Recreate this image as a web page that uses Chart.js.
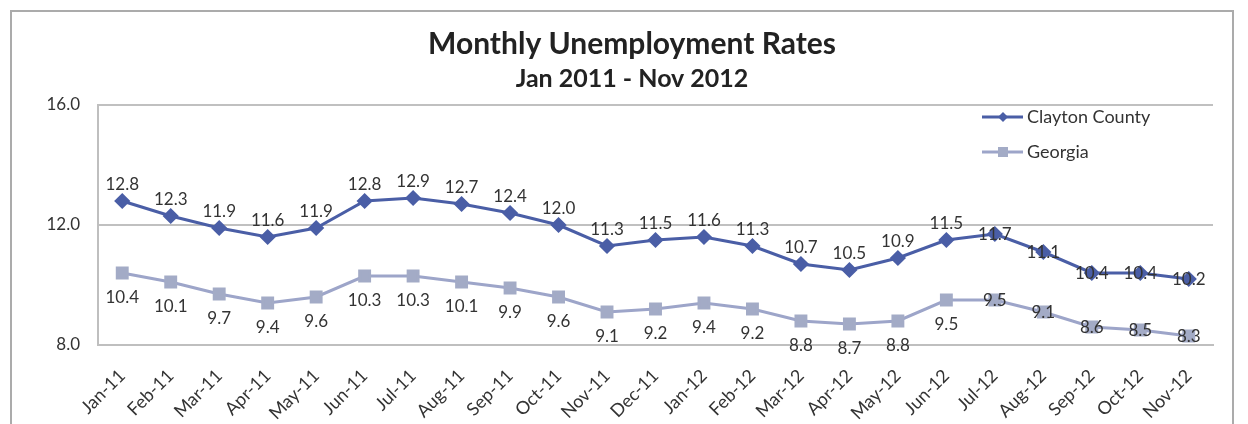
<!DOCTYPE html>
<html>
<head>
<meta charset="utf-8">
<title>Monthly Unemployment Rates</title>
<script src="https://cdn.jsdelivr.net/npm/chart.js@4/dist/chart.umd.min.js"></script>
<style>
    html, body { margin: 0; padding: 0; background: #fff; }
    #wrap { width: 1248px; height: 424px; }
</style>
</head>
<body>
<div id="wrap"><canvas id="myChart" width="1248" height="424"></canvas></div>
<script>
"use strict";

var months = ["Jan-11", "Feb-11", "Mar-11", "Apr-11", "May-11", "Jun-11", "Jul-11", "Aug-11",
    "Sep-11", "Oct-11", "Nov-11", "Dec-11", "Jan-12", "Feb-12", "Mar-12", "Apr-12", "May-12",
    "Jun-12", "Jul-12", "Aug-12", "Sep-12", "Oct-12", "Nov-12"];
var claytonCounty = [12.8, 12.3, 11.9, 11.6, 11.9, 12.8, 12.9, 12.7, 12.4, 12.0, 11.3, 11.5,
    11.6, 11.3, 10.7, 10.5, 10.9, 11.5, 11.7, 11.1, 10.4, 10.4, 10.2];
var georgia = [10.4, 10.1, 9.7, 9.4, 9.6, 10.3, 10.3, 10.1, 9.9, 9.6, 9.1, 9.2,
    9.4, 9.2, 8.8, 8.7, 8.8, 9.5, 9.5, 9.1, 8.6, 8.5, 8.3];
var yTicks = [8, 12, 16];

var FONT = "Lato, 'Open Sans', sans-serif";
var CLAYTON = "#4a5ea6";
var GEORGIA = "#9da5c9";

// outer frame around the whole chart
var framePlugin = {
    id: "frame",
    beforeDraw: function (chart) {
        var ctx = chart.ctx;
        ctx.save();
        ctx.strokeStyle = "#ababab";
        ctx.lineWidth = 2;
        ctx.strokeRect(11, 11, 1222, 440);
        ctx.restore();
    }
};

// value labels: above for Clayton, below for Georgia, on the point near the end
var valueLabels = {
    id: "valueLabels",
    afterDatasetsDraw: function (chart) {
        var ctx = chart.ctx;
        ctx.save();
        ctx.font = "17px " + FONT;
        ctx.fillStyle = "#333";
        ctx.textAlign = "center";
        ctx.textBaseline = "middle";
        chart.data.datasets.forEach(function (ds, i) {
            var meta = chart.getDatasetMeta(i);
            meta.data.forEach(function (pt, j) {
                var dy;
                if (j >= 18) {
                    dy = 1;
                } else {
                    dy = i === 0 ? -16 : 25;
                }
                ctx.fillText(ds.data[j].toFixed(1), pt.x, pt.y + dy);
            });
        });
        ctx.restore();
    }
};

// legend drawn inside the plot, top right
var legendBox = {
    id: "legendBox",
    afterDraw: function (chart) {
        var ctx = chart.ctx;
        ctx.save();
        ctx.font = "18px " + FONT;
        ctx.textBaseline = "middle";
        chart.data.datasets.forEach(function (ds, i) {
            var y = 117 + i * 35;
            ctx.strokeStyle = ds.borderColor;
            ctx.lineWidth = 3;
            ctx.beginPath();
            ctx.moveTo(982, y);
            ctx.lineTo(1023, y);
            ctx.stroke();
            ctx.fillStyle = ds.pointBackgroundColor;
            ctx.beginPath();
            if (i === 0) {
                ctx.moveTo(1003, y - 5);
                ctx.lineTo(1008, y);
                ctx.lineTo(1003, y + 5);
                ctx.lineTo(998, y);
            } else {
                ctx.rect(998, y - 5, 10, 10);
            }
            ctx.fill();
            ctx.fillStyle = "#333";
            ctx.fillText(ds.label, 1027, y);
        });
        ctx.restore();
    }
};

var ctx = document.getElementById("myChart").getContext("2d");
var chart = new Chart(ctx, {
    type: "line",
    data: {
        labels: months,
        datasets: [{
            label: "Clayton County",
            data: claytonCounty,
            borderColor: CLAYTON,
            backgroundColor: CLAYTON,
            pointBackgroundColor: CLAYTON,
            pointBorderColor: CLAYTON,
            pointStyle: "rectRot",
            pointRadius: 6,
            borderWidth: 3,
            tension: 0
        }, {
            label: "Georgia",
            data: georgia,
            borderColor: GEORGIA,
            backgroundColor: GEORGIA,
            pointBackgroundColor: "#a3abc6",
            pointBorderColor: "#a3abc6",
            pointStyle: "rect",
            pointRadius: 7,
            borderWidth: 3,
            tension: 0
        }]
    },
    options: {
        responsive: false,
        animation: false,
        layout: { padding: { left: 16, right: 0, top: 0, bottom: 0 } },
        plugins: {
            legend: { display: false },
            tooltip: { enabled: false },
            title: {
                display: true,
                text: "Monthly Unemployment Rates",
                color: "#222",
                font: { family: FONT, size: 30, weight: "bold" },
                padding: { top: 26, bottom: 2 }
            },
            subtitle: {
                display: true,
                text: "Jan 2011 - Nov 2012",
                color: "#222",
                font: { family: FONT, size: 25, weight: "bold" },
                padding: { top: 0, bottom: 11 }
            }
        },
        scales: {
            x: {
                offset: true,
                grid: { display: false },
                border: { color: "#bfbfbf", width: 2 },
                ticks: {
                    color: "#333",
                    font: { family: FONT, size: 18 },
                    minRotation: 45,
                    maxRotation: 45,
                    padding: 12
                },
                afterFit: function (s) { s.height = 79; }
            },
            y: {
                min: 8,
                max: 16,
                afterBuildTicks: function (s) {
                    s.ticks = yTicks.map(function (v) { return { value: v }; });
                },
                grid: { color: "#c0c0c0", lineWidth: 2, drawTicks: false },
                border: { color: "#bfbfbf", width: 2 },
                ticks: {
                    color: "#333",
                    font: { family: FONT, size: 17 },
                    padding: 18,
                    callback: function (v) { return v.toFixed(1); }
                },
                afterFit: function (s) { s.width = 82; }
            },
            // empty right-hand axis, only reserves the margin beside the plot
            yRight: {
                position: "right",
                min: 8,
                max: 16,
                grid: { display: false, drawTicks: false },
                border: { display: false },
                ticks: { display: false },
                afterFit: function (s) { s.width = 35; }
            }
        }
    },
    plugins: [framePlugin, valueLabels, legendBox]
});
</script>
</body>
</html>
